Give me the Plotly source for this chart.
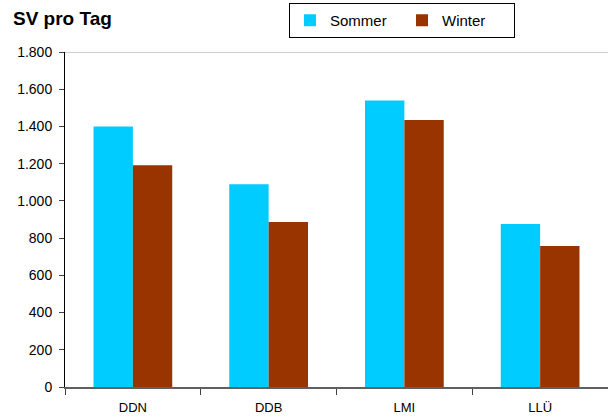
import plotly.graph_objects as go

categories = ["DDN", "DDB", "LMI", "LLÜ"]
sommer = [1400, 1090, 1540, 876]
winter = [1192, 887, 1434, 758]
series_names = ["Sommer", "Winter"]
y_ticks = [0, 200, 400, 600, 800, 1000, 1200, 1400, 1600, 1800]

W, H = 608, 419
ML, MR, MT, MB = 65, 0, 52, 32
PW = W - ML - MR

fig = go.Figure()
fig.add_trace(go.Bar(x=categories, y=sommer, name=series_names[0],
                     marker=dict(color="#00CCFF", line=dict(width=0))))
fig.add_trace(go.Bar(x=categories, y=winter, name=series_names[1],
                     marker=dict(color="#993300", line=dict(width=0))))

fig.add_shape(type="line", xref="paper", yref="y", x0=0, x1=1, y0=1800, y1=1800,
              line=dict(color="#a0a0a0", width=1), layer="below")

fig.add_annotation(text="<b>SV pro Tag</b>", xref="paper", yref="paper",
                   x=(11 - ML) / PW, xanchor="left",
                   y=1 + (MT - 19) / (H - MT - MB), yanchor="middle",
                   showarrow=False, font=dict(size=19, color="black"))

fig.update_layout(
    width=W, height=H,
    margin=dict(l=ML, r=MR, t=MT, b=MB, pad=0, autoexpand=False),
    paper_bgcolor="white", plot_bgcolor="white",
    barmode="group", bargap=0.42, bargroupgap=0,
    separators=",.",
    font=dict(family="Liberation Sans, Arial, sans-serif", color="black", size=13),
    showlegend=True,
    legend=dict(orientation="h", xref="container", yref="container",
                x=289 / W, xanchor="left", y=1 - 3 / H, yanchor="top",
                bordercolor="black", borderwidth=1, bgcolor="white",
                font=dict(size=15), entrywidth=67, entrywidthmode="pixels",
                itemwidth=30, traceorder="normal"),
    xaxis=dict(showline=True, linecolor="#606060", linewidth=2,
               ticks="outside", ticklen=6, tickcolor="#404040", tickson="boundaries",
               showgrid=False, zeroline=False, fixedrange=True, automargin=False,
               ticklabelstandoff=7, tickfont=dict(size=13)),
    yaxis=dict(range=[0, 1800], tickvals=y_ticks, tickformat=",d",
               showline=True, linecolor="black", linewidth=1,
               ticks="outside", ticklen=5, tickcolor="#404040",
               showgrid=False, zeroline=False, fixedrange=True, automargin=False,
               ticklabelstandoff=4, tickfont=dict(size=14)),
)

fig.write_html("out.html", config={"displayModeBar": False},
               post_script="document.body.style.margin='0';document.body.style.overflow='hidden';")
